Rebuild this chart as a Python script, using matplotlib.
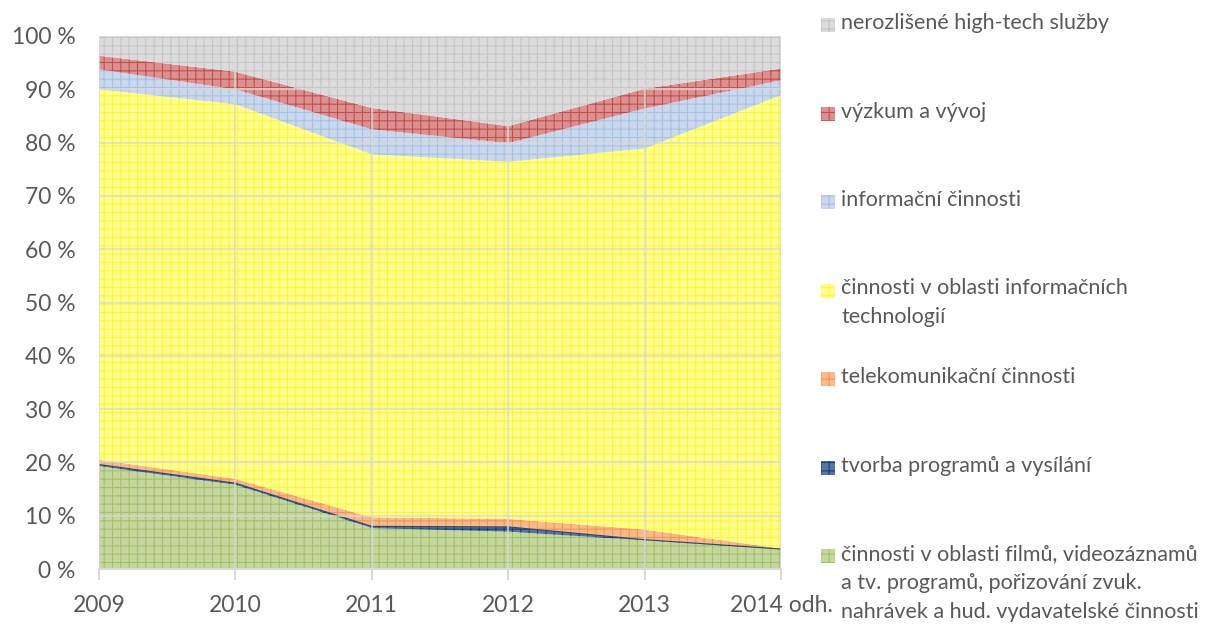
import numpy as np
import matplotlib
matplotlib.use('Agg')
import matplotlib.pyplot as plt
from matplotlib.patches import Rectangle

plt.rcParams['font.family'] = ['Lato', 'DejaVu Sans']
plt.rcParams['hatch.linewidth'] = 0.8

years = ['2009', '2010', '2011', '2012', '2013', '2014 odh.']

# shares in %, bottom to top
film = [19.3, 15.8, 7.7, 7.0, 5.4, 3.7]
tv = [0.3, 0.3, 0.3, 0.9, 0.1, 0.05]
telco = [0.9, 0.8, 1.7, 1.5, 1.9, 0.1]
it = [69.5, 70.3, 68.1, 67.0, 71.5, 85.05]
info = [3.75, 2.8, 4.7, 3.5, 7.5, 2.8]
rnd = [2.55, 3.3, 4.0, 3.2, 3.7, 2.2]
other = [3.7, 6.7, 13.5, 16.9, 9.9, 6.15]

series = [film, tv, telco, it, info, rnd, other]
labels = [
  'činnosti v oblasti filmů, videozáznamů\na tv. programů, pořizování zvuk.\nnahrávek a hud. vydavatelské činnosti',
  'tvorba programů a vysílání',
  'telekomunikační činnosti',
  'činnosti v oblasti informačních\ntechnologií',
  'informační činnosti',
  'výzkum a vývoj',
  'nerozlišené high-tech služby',
]
faces = ['#c4d79e', '#56759f', '#f9b98c', '#ffff8c', '#c9d8ec', '#dc9190', '#dcdcdc']
hatches = ['#a5c16a', '#1f3f78', '#f79646', '#fff53c', '#a9c2e2', '#c0504d', '#c6c6c6']

text_col = '#595959'
grid_col = '#d9d9d9'

fig = plt.figure(figsize=(12.11, 6.26), dpi=100)
ax = fig.add_axes([99 / 1211, 1 - 569 / 626, (781 - 99) / 1211, (569 - 36) / 626])

x = np.arange(len(years))
bottom = np.zeros(len(years))
for vals, fc, hc in zip(series, faces, hatches):
  top = bottom + np.array(vals)
  ax.fill_between(x, bottom, top, facecolor=fc, edgecolor=hc, hatch='++', linewidth=0, zorder=1)
  bottom = top

# tv band is thin - outline it
tv_top = np.array(film) + np.array(tv)
ax.plot(x, tv_top, color='#1f497d', lw=0.8, zorder=2)

ax.set_xlim(0, len(years) - 1)
ax.set_ylim(0, 100)
ax.set_yticks(np.arange(0, 101, 10))
ax.set_yticklabels([f'{v} %' for v in range(0, 101, 10)])
ax.set_xticks(x)
ax.set_xticklabels(years)

for v in range(10, 101, 10):
  ax.axhline(v, color=grid_col, lw=1.5, alpha=0.7, zorder=3)
for xi in x:
  ax.axvline(xi, color=grid_col, lw=1.5, alpha=0.7, zorder=3)

for s in ['top', 'right', 'left']:
  ax.spines[s].set_visible(False)
ax.spines['bottom'].set_color(grid_col)
ax.spines['bottom'].set_linewidth(1.5)
ax.spines['bottom'].set_zorder(4)

ax.tick_params(axis='y', length=0, pad=17, labelsize=16.5, labelcolor=text_col)
ax.tick_params(axis='x', length=8, width=1.5, color=grid_col, pad=11, labelsize=16.5, labelcolor=text_col)

# legend, top to bottom
step = 88.5
for i, (lab, fc, hc) in enumerate(zip(labels[::-1], faces[::-1], hatches[::-1])):
  y_top = 13 + i * step
  fig.patches.append(Rectangle((821 / 1211, 1 - (y_top + 19) / 626), 14 / 1211, 14 / 626,
                               transform=fig.transFigure, facecolor=fc, edgecolor=hc,
                               hatch='++', linewidth=0))
  fig.text(841 / 1211, 1 - y_top / 626, lab, ha='left', va='top', fontsize=15.5,
           color=text_col, linespacing=1.55)

fig.savefig('out.png', dpi=100)
